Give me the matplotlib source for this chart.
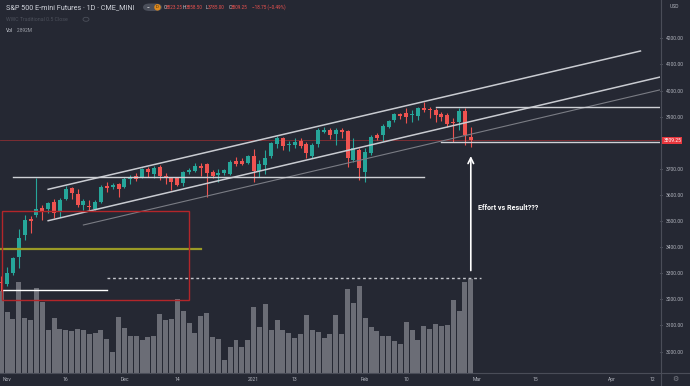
import matplotlib
matplotlib.use('Agg')
import matplotlib.pyplot as plt
from matplotlib.patches import Rectangle, FancyBboxPatch, Ellipse
from matplotlib.lines import Line2D
import numpy as np

# daily bars, Oct 30 2020 .. Feb 26 2021 (index = trading day)
opens = [3267.5, 3258.7, 3300.9, 3362.2, 3445.3, 3508, 3522, 3548.7, 3545, 3573,
         3536, 3584, 3625, 3603, 3560, 3558, 3545, 3574, 3634, 3629,
         3642, 3629, 3661, 3672, 3666, 3698, 3679, 3708, 3671, 3664,
         3667, 3644, 3688, 3693, 3712, 3718, 3687, 3676, 3683, 3680,
         3731, 3729, 3721, 3749, 3692, 3715, 3749, 3794, 3817, 3791,
         3791, 3807, 3794, 3750, 3794, 3840, 3849, 3833, 3849, 3845,
         3734, 3772, 3689, 3759, 3830, 3830, 3861, 3887, 3909, 3913,
         3906, 3903, 3934, 3929, 3925, 3910, 3906, 3881, 3878, 3922,
         3823.25]
highs = [3290, 3322.7, 3363, 3470, 3523, 3520, 3663.7, 3561, 3574, 3583,
         3587, 3634, 3629, 3621, 3583, 3580, 3580, 3638, 3651, 3645,
         3647, 3667, 3676, 3683, 3702, 3708, 3711, 3715, 3683, 3670,
         3670, 3693, 3702, 3721, 3721, 3723, 3695, 3700, 3698, 3734,
         3746, 3740, 3753, 3775, 3734, 3772, 3804, 3827, 3823, 3807,
         3817, 3819, 3804, 3798, 3855, 3861, 3855, 3855, 3855, 3849,
         3819, 3779, 3779, 3830, 3836, 3871, 3887, 3913, 3913, 3932,
         3925, 3938, 3957, 3938, 3932, 3919, 3913, 3894, 3932, 3932,
         3858.5]
lows = [3233, 3251, 3293, 3320, 3427, 3455, 3514.3, 3504, 3530, 3510,
        3517, 3580, 3583, 3555, 3542, 3542, 3542, 3570, 3612, 3622,
        3591, 3625, 3642, 3654, 3664, 3670, 3664, 3657, 3642, 3619,
        3634, 3634, 3679, 3687, 3674, 3591, 3664, 3651, 3676, 3676,
        3711, 3715, 3718, 3648, 3670, 3679, 3740, 3779, 3772, 3768,
        3779, 3779, 3740, 3740, 3785, 3836, 3814, 3791, 3817, 3708,
        3727, 3657, 3651, 3753, 3810, 3808, 3855, 3881, 3891, 3874,
        3881, 3887, 3919, 3894, 3881, 3883, 3861, 3804, 3849, 3791,
        3785]
closes = [3261.4, 3299.7, 3358.3, 3435, 3503.9, 3499, 3544.9, 3539.5, 3568, 3530,
          3580, 3624, 3606, 3561, 3578, 3553, 3574, 3631, 3626, 3638,
          3622, 3660, 3666, 3662, 3698, 3688, 3702, 3672, 3667, 3651,
          3638, 3688, 3695, 3712, 3704, 3683, 3674, 3683, 3694, 3727,
          3717, 3718, 3749, 3692, 3718, 3740, 3798, 3817, 3789, 3794,
          3804, 3789, 3759, 3791, 3849, 3849, 3830, 3849, 3840, 3743,
          3779, 3704, 3766, 3823, 3819, 3864, 3883, 3909, 3902, 3900,
          3910, 3932, 3925, 3924, 3906, 3900, 3871, 3874, 3922, 3828,
          3809.25]
# volume, thousands of contracts
volumes = [2527, 1866, 1660, 2806, 1690, 1637, 2610, 2176, 1327, 1700,
           1349, 1318, 1287, 1340, 1308, 1203, 1225, 1308, 1029, 636,
           1721, 1380, 1122, 1132, 998, 1091, 1132, 1804, 1618, 1659,
           2279, 1916, 1535, 1234, 1742, 1845, 1110, 1029, 388, 781,
           998, 781, 1008, 2031, 1420, 2133, 1308, 1628, 1308, 1225,
           1060, 1184, 1783, 1318, 1256, 1079, 1194, 1773, 1184, 2579,
           2155, 2691, 1699, 1420, 1287, 1141, 1141, 986, 893, 1566,
           1308, 1008, 1432, 1358, 1504, 1432, 1473, 2238, 1907, 2815,
           2892]

tick_idx = [1, 11, 21, 30, 43, 50, 62, 69, 81, 91, 104, 111]
tick_lab = ['Nov', '16', 'Dec', '14', '2021', '13', 'Feb', '10', 'Mar', '15', 'Apr', '12']
# 3800 sits under the last-price tag, so it is left out
price_ticks = [3000, 3100, 3200, 3300, 3400, 3500, 3600, 3700, 3900, 4000, 4100, 4200]

# drawings (bar index, price)
chan_upper = ([8.0, 108.9], [3621.5, 4151.3])
chan_lower = ([8.0, 113.0], [3501.2, 4055.6])
chan_grey = ([14.0, 113.0], [3484.8, 4006.5])
levels = [(3667, 2, 72), (3935.5, 74, 113), (3801, 75, 113)]
white_level = (3234.5, 0.1, 18)
yellow_level = (3394, 0, 34)
dash_level = (3280, 18, 81.7)
last_price = 3809.25
box = (0.14, 3196.3, 32.04, 3538.4)
arrow_x, arrow_from, arrow_to = 80, 3299.7, 3759.4
note_x, note_y = 81.2, 3548.7

bg = '#252833'
up_c = '#26a69a'
dn_c = '#ef5350'
txt_c = '#b2b5be'
plt.rcParams['font.family'] = ['Roboto', 'DejaVu Sans']

fig = plt.figure(figsize=(6.9, 3.86), dpi=100, facecolor=bg)
rect = [0, 13.5 / 386, 660 / 690, 372.5 / 386]
axv = fig.add_axes(rect)
ax = fig.add_axes(rect)
axv.set_facecolor(bg)
ax.patch.set_visible(False)

x = np.arange(len(opens))
o = np.array(opens); c = np.array(closes)
h = np.array(highs); l = np.array(lows)
xmin, xmax = -0.204, 112.23

# volume
axv.bar(x, volumes, width=0.85, color='#6b6d76', linewidth=0)
axv.set_xlim(xmin, xmax)
axv.set_ylim(0, 2892 * 372.5 / 93.2)
axv.axis('off')

# candles
cols = np.where(c >= o, up_c, dn_c)
ax.vlines(x, l, h, colors=cols, linewidth=0.8, zorder=3)
body = np.maximum(np.abs(c - o), 2.5)
ax.bar(x, body, bottom=np.minimum(o, c), width=0.68, color=cols, linewidth=0, zorder=4)

# drawings
ax.plot(*chan_upper, color='#c9cbd1', lw=1.1, zorder=5)
ax.plot(*chan_lower, color='#c9cbd1', lw=1.1, zorder=5)
ax.plot(*chan_grey, color='#7a7c84', lw=0.8, zorder=5)
for lev, a, b in levels:
    ax.plot([a, b], [lev, lev], color='#cfd1d6', lw=1.0, zorder=5)
ax.plot(white_level[1:], [white_level[0]] * 2, color='white', lw=1.0, zorder=5)
ax.plot(yellow_level[1:], [yellow_level[0]] * 2, color='#9a9a26', lw=1.6, zorder=5)
ax.plot(dash_level[1:], [dash_level[0]] * 2, color='#c4c6cc', lw=1.0, dashes=(2, 2), zorder=5)
ax.axhline(last_price, color='#8a2f33', lw=0.6, zorder=2)
ax.add_patch(Rectangle((box[0], box[1]), box[2] - box[0], box[3] - box[1],
                       fill=False, edgecolor='#b3262a', lw=1.0, zorder=5))
ax.annotate('', xy=(arrow_x, arrow_to), xytext=(arrow_x, arrow_from),
            arrowprops=dict(arrowstyle='->', color='white', lw=1.2, mutation_scale=10), zorder=6)
ax.text(note_x, note_y, 'Effort vs Result???', color='white', fontsize=5.1,
        fontweight='bold', va='center', ha='left', zorder=6)

ax.set_xlim(xmin, xmax)
ax.set_ylim(2919.7, 4346.7)
for s in ax.spines.values():
    s.set_visible(False)
ax.yaxis.tick_right()
ax.set_yticks(price_ticks)
ax.set_yticklabels(['%.2f' % p for p in price_ticks])
ax.tick_params(axis='y', length=1.5, width=0.6, color='#80838c', pad=2.5,
               labelsize=3.6, labelcolor=txt_c)
ax.set_xticks(tick_idx)
ax.set_xticklabels(tick_lab)
ax.tick_params(axis='x', length=0, pad=3.2, labelsize=3.6, labelcolor=txt_c)

# last price tag
ax.text(1.005, last_price, '3809.25', transform=ax.get_yaxis_transform(),
        fontsize=3.6, color='white', va='center', ha='left',
        bbox=dict(boxstyle='square,pad=0.25', fc='#e8363d', ec='none'), zorder=7)

# separators
fig.add_artist(Line2D([661 / 690] * 2, [0, 1], color='#4a4d58', lw=0.8))
fig.add_artist(Line2D([0, 1], [13.5 / 386] * 2, color='#4a4d58', lw=0.8))

def fx(px):
    return px / 690

def fy(py):
    return 1 - py / 386

fig.text(fx(674), fy(7), 'USD', fontsize=3.6, color=txt_c, ha='center', va='center')
fig.text(fx(675), fy(379), '\u2699', fontsize=5, color='#80838c', ha='center', va='center',
         family='DejaVu Sans')

# legend header
fig.text(fx(6), fy(7.3), 'S&P 500 E-mini Futures \u00b7 1D \u00b7 CME_MINI', fontsize=5.2,
         color='#d1d4dc', va='center')
fig.add_artist(FancyBboxPatch((fx(143), fy(11)), fx(19), 7.5 / 386,
                              boxstyle='round,pad=0,rounding_size=0.01',
                              transform=fig.transFigure, fc='#4a4e5a', ec='none'))
fig.text(fx(148), fy(7.3), '\u2212', fontsize=3.6, color='white', ha='center', va='center')
fig.add_artist(Ellipse((fx(157.5), fy(7.3)), 6.5 / 690, 6.5 / 386, transform=fig.transFigure,
                       fc='#e0891c', ec='none'))
fig.text(fx(157.5), fy(7.3), 'D', fontsize=3.2, color='#3a2a10', ha='center', va='center')
pieces = [(163.3, 'O', '#d1d4dc'), (165.9, '3823.25', dn_c), (182.7, 'H', '#d1d4dc'),
          (185.4, '3858.50', dn_c), (205.7, 'L', '#d1d4dc'), (208.1, '3785.00', dn_c),
          (228.3, 'C', '#d1d4dc'), (230.9, '3809.25', dn_c),
          (252.5, '\u221218.75 (\u22120.49%)', dn_c)]
for px, s, col in pieces:
    fig.text(fx(px), fy(7.3), s, fontsize=3.3, color=col, va='center')
fig.text(fx(6), fy(19.3), 'WWC Traditional 0.5 Close', fontsize=3.8, color='#4c505b', va='center')
fig.add_artist(Ellipse((fx(86), fy(19.3)), 6 / 690, 4 / 386, transform=fig.transFigure,
                       fc='none', ec='#4c505b', lw=0.6))
fig.text(fx(6), fy(31), 'Vol', fontsize=3.6, color='#d1d4dc', va='center')
fig.text(fx(17), fy(31), '2.892M', fontsize=3.4, color='#a0a3ab', va='center')

fig.savefig('out.png', dpi=100, facecolor=bg)
